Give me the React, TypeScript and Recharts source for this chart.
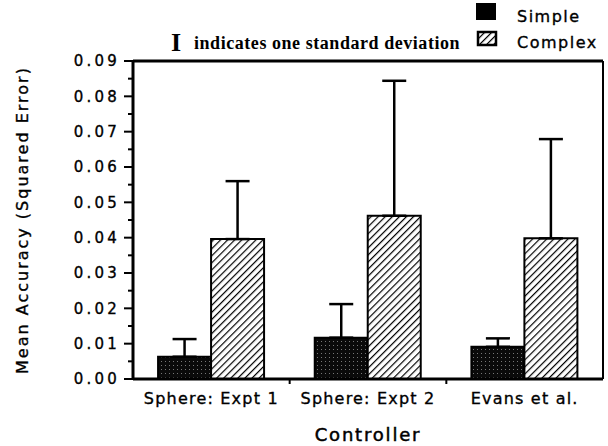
import React from "react";
import { BarChart, Bar, XAxis, YAxis, ErrorBar, ReferenceLine } from "recharts";

const categories = ["Sphere: Expt 1", "Sphere: Expt 2", "Evans et al."];
const simpleMean = [0.0063, 0.0117, 0.0091];
const simpleSD = [0.005, 0.0095, 0.0024];
const complexMean = [0.0396, 0.0462, 0.0398];
const complexSD = [0.0164, 0.0382, 0.0281];
const yTicks = [0, 0.005, 0.01, 0.015, 0.02, 0.025, 0.03, 0.035, 0.04, 0.045, 0.05, 0.055, 0.06, 0.065, 0.07, 0.075, 0.08, 0.085, 0.09];
const seriesNames = ["Simple", "Complex"];
const legendNote = "indicates one standard deviation";
const yTitle = "Mean Accuracy (Squared Error)";
const xTitle = "Controller";

const data = categories.map((c, i) => ({
  name: c,
  simple: simpleMean[i],
  simpleErr: [0, simpleSD[i]],
  complex: complexMean[i],
  complexErr: [0, complexSD[i]],
}));

const W = 608;
const H = 446;
const M_TOP = 61;
const Y_W = 133;
const R_W = 5;
const X_H = 67;
const BAND = (W - Y_W - R_W) / categories.length;

const SANS = "'DejaVu Sans', sans-serif";
const SERIF = "'Liberation Serif', serif";
const BOLDEN = { stroke: "#000", strokeWidth: 0.35 };

const YTick = (props: any) => {
  const { x, y, payload } = props;
  const v = payload.value as number;
  const major = Math.round(v * 1000) % 10 === 0;
  return (
    <g>
      <line x1={x - (major ? 9 : 5)} x2={x} y1={y} y2={y} stroke="#000" strokeWidth={2} />
      {major && (
        <text x={x - 13} y={y} dy="0.36em" textAnchor="end" fontFamily={SANS} fontSize={15} letterSpacing={3.2} fill="#000" {...BOLDEN}>
          {v.toFixed(2)}
        </text>
      )}
    </g>
  );
};

const XTick = (props: any) => {
  const { x, y, payload, index } = props;
  return (
    <g>
      {index < categories.length - 1 && (
        <line x1={x + BAND / 2} x2={x + BAND / 2} y1={y} y2={y + 5} stroke="#000" strokeWidth={2} />
      )}
      <text x={x} y={y + 25} textAnchor="middle" fontFamily={SANS} fontSize={16} letterSpacing={1.2} fill="#000" {...BOLDEN}>
        {payload.value}
      </text>
    </g>
  );
};

const YLabel = (props: any) => {
  const vb = props.viewBox || {};
  const cy = vb.y + vb.height / 2;
  const cx = 22;
  return (
    <text x={cx} y={cy} transform={`rotate(-90 ${cx} ${cy})`} textAnchor="middle" dominantBaseline="central" fontFamily={SANS} fontSize={16} letterSpacing={2} fill="#000" {...BOLDEN}>
      {yTitle}
    </text>
  );
};

const XLabel = (props: any) => {
  const vb = props.viewBox || {};
  const cx = vb.x + vb.width / 2;
  return (
    <text x={cx} y={441} textAnchor="middle" fontFamily={SANS} fontSize={18} letterSpacing={1.8} fill="#000" stroke="#000" strokeWidth={0.5}>
      {xTitle}
    </text>
  );
};

export default function App() {
  return (
    <div style={{ position: "absolute", left: 0, top: 0, width: W, height: H, background: "#fff" }}>
      <svg width={0} height={0} style={{ position: "absolute" }}>
        <defs>
          <pattern id="hatch" patternUnits="userSpaceOnUse" width={5} height={5} patternTransform="rotate(45)">
            <rect width={5} height={5} fill="#fff" />
            <line x1={0} y1={0} x2={0} y2={5} stroke="#000" strokeWidth={2.4} />
          </pattern>
          <pattern id="stipple" patternUnits="userSpaceOnUse" width={4} height={4}>
            <rect width={4} height={4} fill="#0a0a0a" />
            <rect x={1} y={1} width={1} height={1} fill="#777" />
          </pattern>
        </defs>
      </svg>
      <BarChart
        width={W}
        height={H}
        data={data}
        margin={{ top: M_TOP, right: 0, bottom: 0, left: 0 }}
        barGap={0}
        barCategoryGap="16%"
      >
        <XAxis
          dataKey="name"
          height={X_H}
          axisLine={{ stroke: "#000", strokeWidth: 3 }}
          tickLine={false}
          tickSize={0}
          tickMargin={0}
          tick={<XTick />}
          interval={0}
          label={<XLabel />}
        />
        <YAxis
          yAxisId="left"
          width={Y_W}
          domain={[0, 0.09]}
          ticks={yTicks}
          interval={0}
          axisLine={{ stroke: "#000", strokeWidth: 3 }}
          tickLine={false}
          tickSize={0}
          tickMargin={0}
          tick={<YTick />}
          label={<YLabel />}
        />
        <YAxis
          yAxisId="right"
          orientation="right"
          width={R_W}
          domain={[0, 0.09]}
          tick={false}
          tickLine={false}
          axisLine={{ stroke: "#000", strokeWidth: 2 }}
        />
        <ReferenceLine yAxisId="left" y={0.09} stroke="#000" strokeWidth={3} />
        <Bar yAxisId="left" dataKey="simple" fill="url(#stipple)" stroke="#000" strokeWidth={2} isAnimationActive={false}>
          <ErrorBar dataKey="simpleErr" width={12} stroke="#000" strokeWidth={2.5} direction="y" />
        </Bar>
        <Bar yAxisId="left" dataKey="complex" fill="url(#hatch)" stroke="#000" strokeWidth={2} isAnimationActive={false}>
          <ErrorBar dataKey="complexErr" width={12} stroke="#000" strokeWidth={2.5} direction="y" />
        </Bar>
      </BarChart>
      <svg width={W} height={58} style={{ position: "absolute", left: 0, top: 0, pointerEvents: "none" }}>
        <text x={176} y={51} textAnchor="middle" fontFamily={SERIF} fontWeight="bold" fontSize={26} fill="#000">I</text>
        <text x={194} y={49} fontFamily={SERIF} fontWeight="bold" fontSize={18} letterSpacing={0.55} fill="#000">{legendNote}</text>
        <rect x={476} y={3} width={20} height={17} fill="#000" />
        <rect x={478} y={32} width={18} height={13} fill="url(#hatch)" stroke="#000" strokeWidth={2.5} />
        <text x={517} y={22} fontFamily={SANS} fontSize={16} letterSpacing={1.5} fill="#000" {...BOLDEN}>{seriesNames[0]}</text>
        <text x={517} y={48} fontFamily={SANS} fontSize={16} letterSpacing={1.5} fill="#000" {...BOLDEN}>{seriesNames[1]}</text>
      </svg>
    </div>
  );
}
